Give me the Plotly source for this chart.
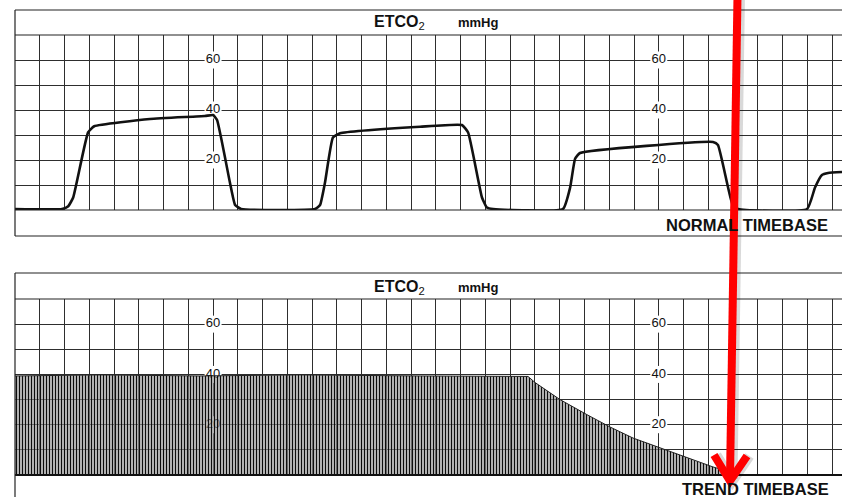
import plotly.graph_objects as go

W, H = 842, 497

# ---------------- data (time in grid units, ETCO2 in mmHg) ----------------
wave_t = [0.0, 1.90, 2.15, 2.35, 2.95, 3.20, 5.45, 7.67, 8.00, 8.16, 8.68, 8.89, 9.13,
          12.12, 12.32, 12.52, 12.84, 13.13, 16.36, 18.05, 18.30, 18.86, 19.06, 19.31,
          22.13, 22.42, 22.62, 22.82, 28.19, 28.39, 28.96, 29.20,
          31.99, 32.31, 32.59, 32.84, 33.40]
wave_v = [0.4, 0.4, 1.5, 5, 31, 33.5, 36.4, 37.6, 38, 36, 11, 2, 0.4,
          0.4, 2, 11, 29, 30.7, 33.3, 34, 31, 5, 1, 0.4,
          0.4, 9, 20.5, 22.8, 27.2, 26, 2.8, 0.4,
          0.4, 9, 14, 14.8, 15.2]

trend_t = [0.0, 3.43, 7.47, 11.51, 16.36, 20.72, 21.00, 22.01, 23.10, 24.03, 24.96,
           26.05, 27.14, 28.19, 29.16, 29.48]
trend_v = [39.4, 39.8, 39.4, 39.8, 39.4, 39.2, 36.8, 30, 24, 19.1, 14.7,
           10.8, 7.2, 3.2, 0.4, 0]

scale_labels = ["20", "40", "60"]
scale_values = [20, 40, 60]
scale_positions = [8, 26]
X_RANGE = [0, 33.4]
Y_RANGE = [0, 70]

# ---------------- helpers ----------------
def px(x):
    return x / W

def py(y):
    return 1 - y / H

FONT = "Liberation Sans, Arial, sans-serif"
GRID = "#2e2e2e"

fig = go.Figure()

def scale_trace(xa, ya):
    xs = [p for p in scale_positions for _ in scale_values]
    ys = [v for _ in scale_positions for v in scale_values]
    ts = [l for _ in scale_positions for l in scale_labels]
    return go.Scatter(x=xs, y=ys, text=ts, mode="markers+text", textposition="middle center",
                      marker=dict(symbol="square", size=17, color="white", line=dict(width=0)),
                      textfont=dict(family=FONT, size=13, color="#111"),
                      xaxis=xa, yaxis=ya, hoverinfo="skip", showlegend=False, cliponaxis=False)

# top panel: labels under the waveform
fig.add_trace(scale_trace("x", "y"))
fig.add_trace(go.Scatter(
    x=wave_t, y=wave_v, mode="lines",
    line=dict(color="#111", width=2.6, shape="spline", smoothing=0.4),
    xaxis="x", yaxis="y", hoverinfo="skip", showlegend=False))

# bottom panel: labels under the trend bars
fig.add_trace(scale_trace("x2", "y2"))
fig.add_trace(go.Scatter(
    x=trend_t, y=trend_v, mode="lines", fill="tozeroy",
    line=dict(color="#222", width=1),
    fillcolor="rgba(255,255,255,0.5)",
    fillpattern=dict(shape="|", size=3, solidity=0.55, fgcolor="#000000",
                     fgopacity=0.95, bgcolor="rgba(255,255,255,0.5)", fillmode="replace"),
    xaxis="x2", yaxis="y2", hoverinfo="skip", showlegend=False))

axis_common = dict(showgrid=True, gridcolor=GRID, gridwidth=1.1, zeroline=False,
                   showline=False, showticklabels=False, ticks="", fixedrange=True)

fig.update_layout(
    width=W, height=H, margin=dict(l=0, r=0, t=0, b=0),
    paper_bgcolor="white", plot_bgcolor="white",
    xaxis=dict(domain=[px(15), 1], range=X_RANGE, dtick=1, tick0=0, anchor="y", **axis_common),
    yaxis=dict(domain=[py(210), py(35)], range=Y_RANGE, dtick=10, tick0=0, anchor="x", **axis_common),
    xaxis2=dict(domain=[px(15), 1], range=X_RANGE, dtick=1, tick0=0, anchor="y2", **axis_common),
    yaxis2=dict(domain=[py(475), py(299)], range=Y_RANGE, dtick=10, tick0=0, anchor="x2", **axis_common),
)

ann = []
for ytxt in [22.5, 287]:
    ann.append(dict(x=px(372), y=py(ytxt), xref="paper", yref="paper", xanchor="left",
                    yanchor="middle", text="<b>ETCO</b><sub>2</sub>", showarrow=False,
                    font=dict(family=FONT, size=16, color="#111")))
    ann.append(dict(x=px(456), y=py(ytxt), xref="paper", yref="paper", xanchor="left",
                    yanchor="middle", text="<b>mmHg</b>", showarrow=False,
                    font=dict(family=FONT, size=13, color="#111")))

ann.append(dict(x=px(830), y=py(225), xref="paper", yref="paper", xanchor="right",
                yanchor="middle", text="<b>NORMAL TIMEBASE</b>", showarrow=False,
                font=dict(family=FONT, size=16.5, color="#111")))
ann.append(dict(x=px(831), y=py(489), xref="paper", yref="paper", xanchor="right",
                yanchor="middle", text="<b>TREND TIMEBASE</b>", showarrow=False,
                font=dict(family=FONT, size=16.5, color="#111")))
fig.update_layout(annotations=ann)

shapes = []
def hline(y, x0=15, x1=W, w=1.2, c="#222"):
    shapes.append(dict(type="line", xref="paper", yref="paper", x0=px(x0), x1=px(x1),
                       y0=py(y), y1=py(y), line=dict(color=c, width=w)))
def vline(x, y0, y1, w=1.2, c="#222"):
    shapes.append(dict(type="line", xref="paper", yref="paper", x0=px(x), x1=px(x),
                       y0=py(y0), y1=py(y1), line=dict(color=c, width=w)))

# panel frames
hline(10); hline(35); hline(210); hline(236)
vline(15, 10, 236)
hline(273); hline(299); hline(475, w=2.2, c="#111")
vline(15, 273, H)

# red arrow overlay (with soft shadow)
def path(pts):
    return "M " + " L ".join(f"{px(x)},{py(y)}" for x, y in pts)

for dx, col, wd in [(2.5, "rgba(0,0,0,0.15)", 10), (0, "#ff0000", 8)]:
    shapes.append(dict(type="path", xref="paper", yref="paper",
                       path=path([(737.5 + dx, -5), (730 + dx, 479)]),
                       line=dict(color=col, width=wd)))
    shapes.append(dict(type="path", xref="paper", yref="paper",
                       path=path([(714 + dx, 455), (730 + dx, 481), (747 + dx, 456)]),
                       line=dict(color=col, width=wd)))

fig.update_layout(shapes=shapes)

fig.write_html("out.html")
